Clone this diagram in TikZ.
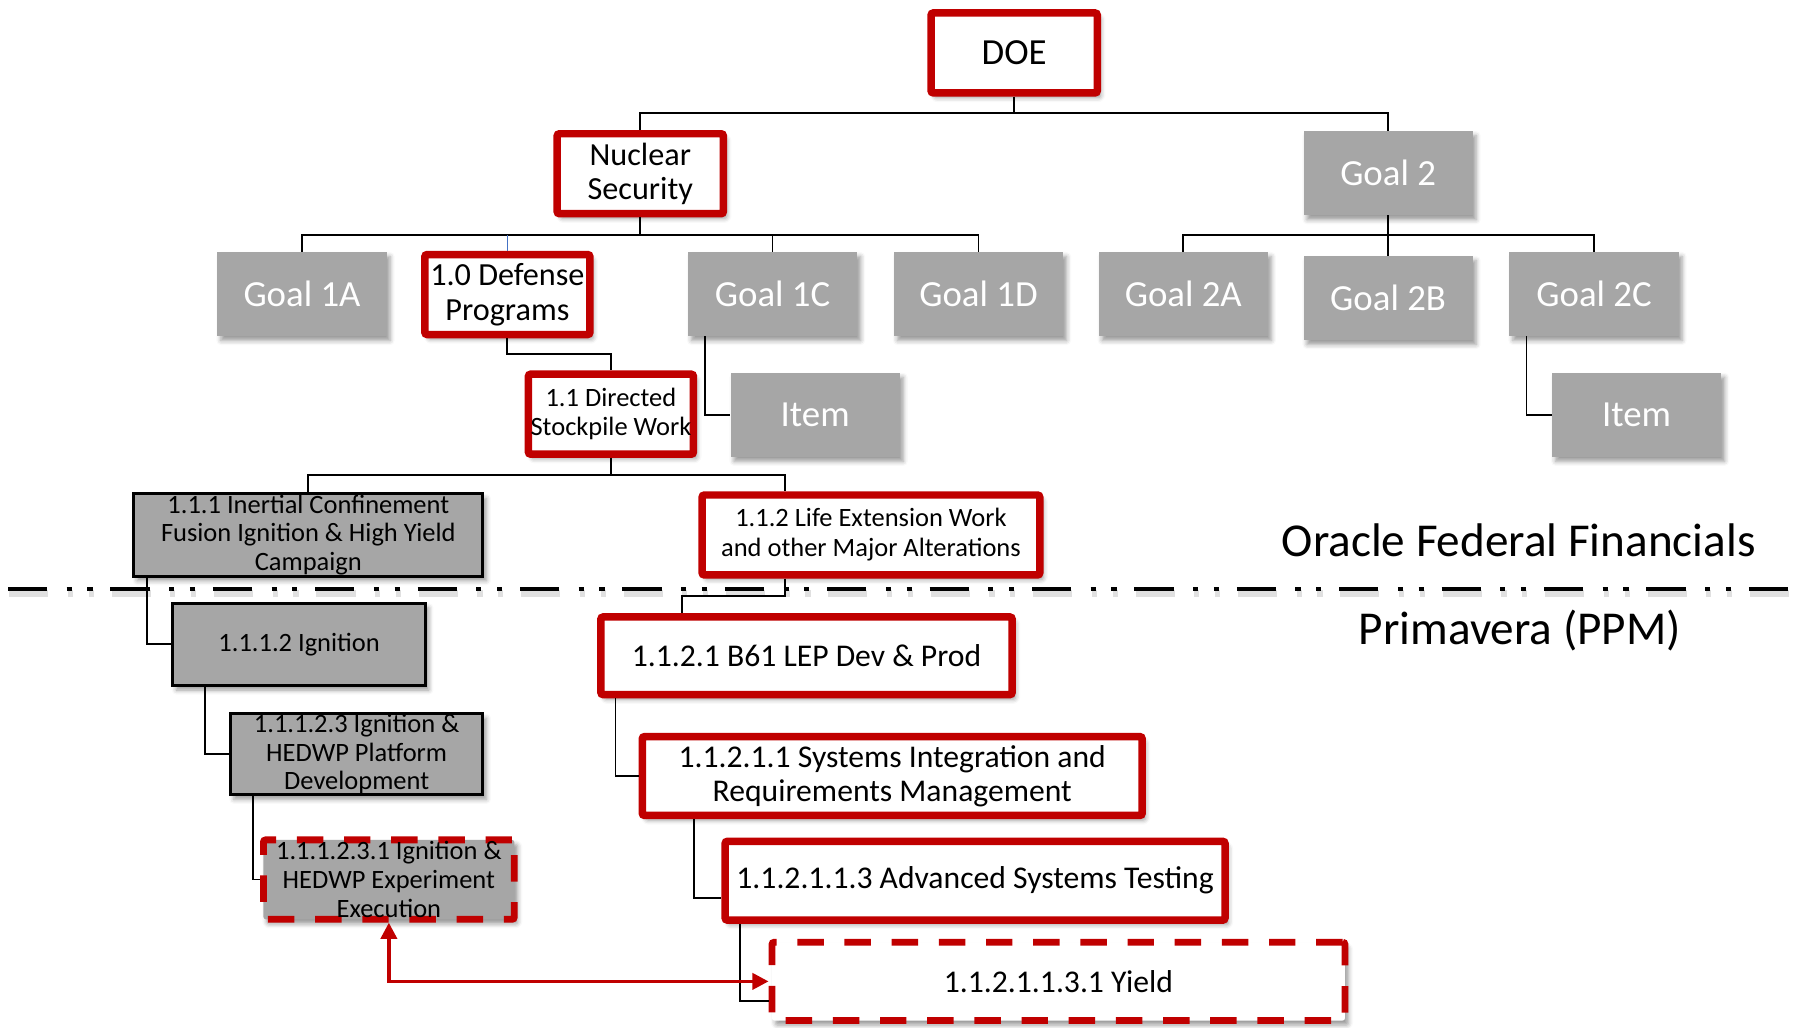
\documentclass[tikz,border=0pt]{standalone}
\usepackage{fontspec}
\setmainfont{Carlito}
\usetikzlibrary{arrows.meta,shadows.blur,calc}
\definecolor{myred}{HTML}{C00000}
\definecolor{mygray}{HTML}{A6A6A6}
\definecolor{myblue}{HTML}{4472C4}
\tikzset{
  shd/.style={blur shadow={shadow xshift=3pt, shadow yshift=-4pt, shadow blur radius=4pt, shadow opacity=40}},
  redbox/.style={draw=myred, line width=6.5pt, rounded corners=2pt, fill=white, inner sep=0pt, align=center, shd},
  goalbox/.style={fill=mygray, text=white, inner sep=0pt, align=center, shd,
    font=\fontsize{32}{34}\selectfont, minimum width=147pt, minimum height=73pt},
  gbox/.style={fill=mygray, draw=black, line width=2.5pt, inner sep=0pt, align=center, shd},
  dashbox/.style={draw=myred, line width=6pt, rounded corners=2pt, dash pattern=on 23pt off 18pt, inner sep=0pt, align=center, shd},
  conn/.style={draw=black, line width=1.6pt},
  fbig/.style={font=\fontsize{32}{34}\selectfont},
  fmid/.style={font=\fontsize{28}{30}\selectfont},
  fsm/.style={font=\fontsize{23}{25}\selectfont},
  flg/.style={font=\fontsize{27.5}{30}\selectfont},
  fhuge/.style={font=\fontsize{41}{44}\selectfont, inner sep=0pt},
  sepdash/.style={line width=4pt, dash pattern=on 34pt off 17pt on 4.5pt off 13.5pt on 4.5pt off 15.5pt},
}
\begin{document}
\begin{tikzpicture}[x=1pt, y=-1pt]
\useasboundingbox (0,0) rectangle (1568,893);
% top levels
\node[redbox, fbig, minimum width=144.5pt, minimum height=69.5pt] (DOE) at (881.5,46) {DOE};
\node[redbox, fmid, minimum width=144.5pt, minimum height=69.5pt] (NS) at (556.5,151) {Nuclear\\Security};
\node[goalbox] (G2) at (1206.5,150.5) {Goal 2};
% row 3
\node[goalbox] (G1A) at (262.5,255.5) {Goal 1A};
\node[redbox, fmid, minimum width=143.5pt, minimum height=69.5pt] (Def) at (441,256) {1.0 Defense\\Programs};
\node[goalbox] (G1C) at (671.5,255.5) {Goal 1C};
\node[goalbox] (G1D) at (850.5,255.5) {Goal 1D};
\node[goalbox] (G2A) at (1028.5,255.5) {Goal 2A};
\node[goalbox] (G2B) at (1206.5,259) {Goal 2B};
\node[goalbox] (G2C) at (1385.5,255.5) {Goal 2C};
\node[goalbox] (I1) at (708.5,360.5) {Item};
\node[goalbox] (I2) at (1422.5,360.5) {Item};
\node[redbox, fsm, minimum width=143.5pt, minimum height=69.5pt] (DSW) at (531,360) {1.1 Directed\\Stockpile Work};
% level 1.1.x
\node[gbox, fsm, font=\fontsize{23}{24.5}\selectfont, minimum width=303.5pt, minimum height=71.5pt] (C111) at (268,465) {1.1.1 Inertial Confinement\\Fusion Ignition \& High Yield\\Campaign};
\node[redbox, fsm, font=\fontsize{23}{26}\selectfont, minimum width=293.5pt, minimum height=69.5pt] (C112) at (757,465) {1.1.2 Life Extension Work\\and other Major Alterations};
% left branch
\node[gbox, fsm, minimum width=219.5pt, minimum height=71.5pt] (Ign) at (260,560) {1.1.1.2 Ignition};
\node[gbox, fsm, minimum width=219.5pt, minimum height=70.5pt] (C1123) at (310,655.5) {1.1.1.2.3 Ignition \&\\HEDWP Platform\\Development};
\node[dashbox, fill=mygray, fsm, minimum width=218pt, minimum height=69pt] (C11231) at (338,764.5) {1.1.1.2.3.1 Ignition \&\\HEDWP Experiment\\Execution};
% right branch
\node[redbox, flg, minimum width=357.5pt, minimum height=67.5pt] (B61) at (701,570) {1.1.2.1 B61 LEP Dev \& Prod};
\node[redbox, flg, font=\fontsize{27.5}{29.5}\selectfont, minimum width=434.5pt, minimum height=68.5pt] (SI) at (775.5,674.5) {1.1.2.1.1 Systems Integration and\\Requirements Management};
\node[redbox, flg, minimum width=434.5pt, minimum height=68.5pt] (AST) at (847.5,765.5) {1.1.2.1.1.3 Advanced Systems Testing};
\node[dashbox, fill=white, flg, minimum width=498pt, minimum height=68pt] (Yield) at (920,853) {1.1.2.1.1.3.1 Yield};
% system labels
\node[fhuge] (OFF) at (1320,470) {Oracle Federal Financials};
\node[fhuge] (PPM) at (1321,548) {Primavera (PPM)};
% connectors
\draw[conn] (DOE.south) -- ++(0,14) coordinate (b0) -| (NS.north);
\draw[conn] (b0) -| (G2.north);
\draw[conn] (NS.south) -- ++(0,15) coordinate (b1) -| (G1A.north);
\draw[conn] (b1) -| (G1C.north);
\draw[conn] (b1) -| (G1D.north);
\draw[myblue, line width=1pt] (Def.north) -- (Def.north |- b1);
\draw[conn] (G2.south) -- ++(0,17) coordinate (b2) -| (G2A.north);
\draw[conn] (b2) -| (G2C.north);
\draw[conn] (b2) -- (G2B.north);
\draw[conn] ($(G1C.south west)+(15,0)$) |- (I1.west);
\draw[conn] ($(G2C.south west)+(15,0)$) |- (I2.west);
\draw[conn] (Def.south) -- ++(0,14) -| (DSW.north);
\draw[conn] (DSW.south) -- ++(0,15) coordinate (b3) -| (C111.north);
\coordinate (c112top) at ($(C112.north west)+(75,0)$);
\draw[conn] (b3) -| (c112top);
\draw[conn] ($(C112.south west)+(75,0)$) -- ++(0,15) -| ($(B61.north west)+(74,0)$);
\draw[conn] ($(C111.south west)+(13,0)$) |- (Ign.west);
\draw[conn] ($(Ign.south west)+(29,0)$) |- (C1123.west);
\draw[conn] ($(C1123.south west)+(21,0)$) |- (C11231.west);
\draw[conn] ($(B61.south west)+(16,0)$) |- (SI.west);
\draw[conn] ($(SI.south west)+(48,0)$) |- ($(AST.west)+(0,15)$);
\draw[conn] ($(AST.south west)+(16,0)$) |- ($(Yield.west)+(0,17)$);
% separator
\coordinate (sepL) at (7,512);
\coordinate (sepR) at (1568,512);
\draw[black, opacity=0.12, sepdash, line width=6pt] ($(sepL)+(1,4)$) -- ($(sepR)+(1,4)$);
\draw[black, sepdash] (sepL) -- (sepR);
% link arrow
\draw[myred, line width=3pt, {Triangle[length=14pt,width=14pt]}-{Triangle[length=14pt,width=14pt]}] (C11231.south) |- (Yield.west);
\end{tikzpicture}
\end{document}
